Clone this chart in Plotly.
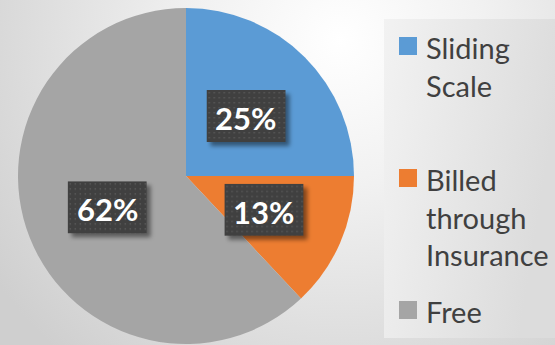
import base64
import math
import plotly.graph_objects as go

# ---- data ----
categories = ["Sliding Scale", "Billed through Insurance", "Free"]
shares = [25, 13, 62]
legend_text = ["Sliding<br>Scale", "Billed<br>through<br>Insurance", "Free"]
colors = ["#5B9BD5", "#ED7D31", "#A5A5A5"]

# ---- canvas / pie geometry (pixels) ----
W, H = 555, 345
CX, CY, R = 186, 176, 168
LABEL_R = 0.505 * R
BOX_W, BOX_H = 79, 52

TEXT_FONT = "Lato, 'Open Sans', sans-serif"


def uri(svg):
    return "data:image/svg+xml;base64," + base64.b64encode(svg.encode()).decode()


def fx(px):
    return px / W


def fy(py):
    return 1 - py / H


fig = go.Figure(go.Pie(
    labels=categories,
    values=shares,
    marker=dict(colors=colors, line=dict(width=0)),
    sort=False,
    direction="clockwise",
    rotation=0,
    textinfo="none",
    hoverinfo="label+percent",
    showlegend=False,
    domain=dict(x=[fx(CX - R), fx(CX + R)], y=[fy(CY + R), fy(CY - R)]),
))

# chart-area background: soft radial gradient plus a shaded legend panel
background = f'''<svg xmlns="http://www.w3.org/2000/svg" width="{W}" height="{H}" viewBox="0 0 {W} {H}">
<defs>
<radialGradient id="g" gradientUnits="userSpaceOnUse" cx="340" cy="40" r="420">
<stop offset="0" stop-color="#FFFFFF"/>
<stop offset="0.35" stop-color="#F1F1F1"/>
<stop offset="1" stop-color="#CFCFCF"/>
</radialGradient>
<linearGradient id="l" x1="0" y1="0" x2="1" y2="0.3">
<stop offset="0" stop-color="#F2F2F2"/>
<stop offset="1" stop-color="#DCDCDC"/>
</linearGradient>
</defs>
<rect width="{W}" height="{H}" fill="url(#g)"/>
<rect x="384" y="19" width="171" height="319" fill="url(#l)"/>
</svg>'''

# dark dotted label box with a soft drop shadow
SW, SH = BOX_W + 13, BOX_H + 14
label_box = f'''<svg xmlns="http://www.w3.org/2000/svg" width="{SW}" height="{SH}" viewBox="0 0 {SW} {SH}">
<defs>
<pattern id="p" width="5" height="5" patternUnits="userSpaceOnUse">
<rect width="5" height="5" fill="#404040"/>
<rect x="2" y="2" width="1.4" height="1.4" fill="#5A5A5A"/>
</pattern>
<filter id="s" x="-20%" y="-20%" width="150%" height="150%"><feGaussianBlur stdDeviation="2.2"/></filter>
</defs>
<rect x="4" y="4" width="{BOX_W}" height="{BOX_H}" fill="#000" fill-opacity="0.45" filter="url(#s)"/>
<rect x="0" y="0" width="{BOX_W}" height="{BOX_H}" fill="url(#p)"/>
</svg>'''

images = [dict(source=uri(background), xref="paper", yref="paper", x=0, y=1,
               sizex=1, sizey=1, xanchor="left", yanchor="top",
               sizing="stretch", layer="below")]
annotations = []
shapes = []

# data labels placed halfway out along each slice's mid-angle
total = sum(shares)
cum = 0
for v in shares:
    theta = 2 * math.pi * (cum + v / 2) / total
    cum += v
    lx = CX + LABEL_R * math.sin(theta)
    ly = CY - LABEL_R * math.cos(theta)
    images.append(dict(source=uri(label_box), xref="paper", yref="paper",
                       x=fx(lx - BOX_W / 2), y=fy(ly - BOX_H / 2),
                       sizex=SW / W, sizey=SH / H, xanchor="left", yanchor="top",
                       sizing="stretch", layer="above"))
    annotations.append(dict(x=fx(lx), y=fy(ly), xref="paper", yref="paper",
                            text=f"<b>{v}%</b>", showarrow=False,
                            xanchor="center", yanchor="middle", yshift=-2,
                            font=dict(family=TEXT_FONT, size=31, color="#FFFFFF")))

# legend: coloured squares beside wrapped category names
legend_tops = [37, 169, 301]
for txt, col, top in zip(legend_text, colors, legend_tops):
    shapes.append(dict(type="rect", xref="paper", yref="paper",
                       x0=fx(399), x1=fx(417), y0=fy(top + 18), y1=fy(top),
                       fillcolor=col, line=dict(width=0)))
    annotations.append(dict(x=fx(424), y=fy(top - 9), xref="paper", yref="paper",
                            text=txt, showarrow=False, align="left",
                            xanchor="left", yanchor="top",
                            font=dict(family=TEXT_FONT, size=29, color="#404040")))

fig.update_layout(
    width=W, height=H,
    margin=dict(l=0, r=0, t=0, b=0),
    paper_bgcolor="#EDEDED",
    plot_bgcolor="rgba(0,0,0,0)",
    images=images,
    annotations=annotations,
    shapes=shapes,
    showlegend=False,
)

fig.write_html("out.html")
